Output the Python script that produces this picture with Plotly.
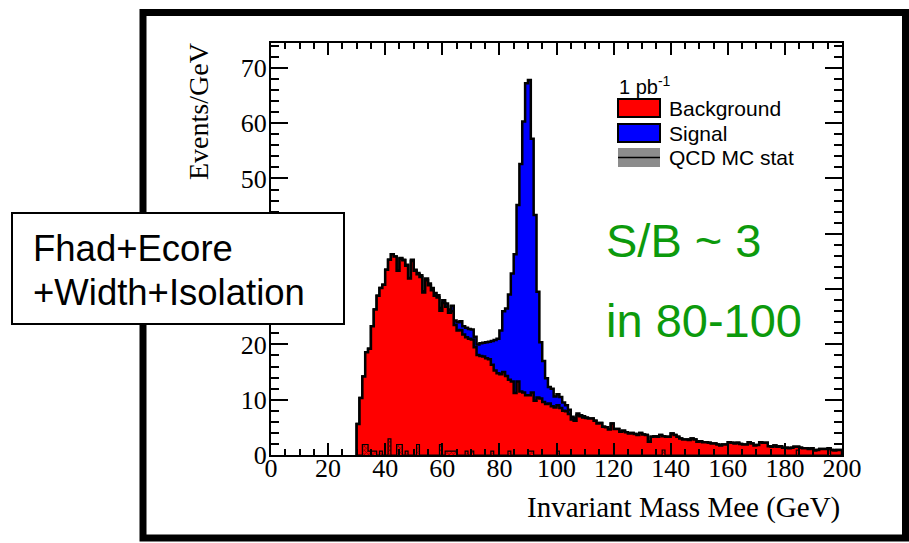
import numpy as np
import plotly.graph_objects as go

# ---------------- data (1 GeV bins, lower edges 30..199) ----------------
bin_low = list(range(30, 200))

background = [
    5.6, 10.3, 14.2, 18.6, 19.2, 23.3, 26.3, 28.8, 30.2, 30.8,      # 30-39
    33.5, 35.3, 36.3, 35.9, 33.3, 35.5, 35.2, 34.2, 31.9, 35.1,     # 40-49
    33.3, 32.7, 32.2, 29.4, 31.6, 30.7, 29.8, 28.8, 28.5, 26.1,     # 50-59
    27.5, 26.8, 25.7, 26.0, 23.5, 22.5, 22.6, 21.8, 21.3, 21.0,     # 60-69
    20.9, 19.5, 18.1, 17.9, 17.8, 17.5, 17.3, 16.3, 15.3, 14.8,     # 70-79
    14.6, 15.0, 14.3, 13.6, 13.3, 11.2, 13.3, 11.5, 11.3, 10.8,     # 80-89
    10.8, 11.3, 9.8, 10.4, 10.2, 9.6, 9.2, 9.3, 8.8, 8.6,           # 90-99
    9.0, 8.5, 8.0, 7.9, 7.4, 6.4, 6.2, 7.2, 7.0, 6.8,               # 100-109
    6.7, 6.6, 6.6, 6.2, 5.7, 5.8, 5.1, 5.0, 4.6, 5.7,               # 110-119
    4.7, 4.7, 4.2, 4.4, 4.1, 3.9, 4.0, 3.8, 3.6, 4.0,               # 120-129
    3.7, 3.6, 2.4, 3.3, 3.4, 3.3, 3.6, 3.4, 3.3, 3.3,               # 130-139
    3.9, 3.6, 3.3, 3.0, 2.8, 2.8, 2.7, 3.0, 2.8, 2.4,               # 140-149
    2.5, 2.3, 2.3, 2.2, 2.1, 2.1, 1.9, 1.7, 1.9, 1.9,               # 150-159
    2.3, 2.2, 2.1, 2.2, 2.0, 1.9, 1.9, 2.3, 2.1, 1.7,               # 160-169
    1.8, 2.3, 2.2, 2.2, 1.6, 1.5, 1.7, 1.5, 1.6, 1.3,               # 170-179
    1.3, 1.2, 1.3, 1.5, 1.5, 1.3, 1.2, 1.2, 1.1, 1.2,               # 180-189
    0.8, 0.9, 1.1, 1.1, 1.1, 1.2, 0.9, 0.8, 0.9, 0.9,               # 190-199
]

signal = [
    0, 0, 0, 0, 0, 0, 0, 0, 0, 0,                                   # 30-39
    0, 0, 0, 0, 0, 0.1, 0.1, 0.2, 0.1, 0.2,                         # 40-49
    0.2, 0.2, 0.3, 0.2, 0.3, 0.3, 0.4, 0.5, 0.4, 0.5,               # 50-59
    0.5, 0.6, 0.6, 1.0, 0.8, 1.5, 1.6, 1.5, 1.7, 1.8,               # 60-69
    1.8, 1.9, 1.9, 2.3, 2.5, 2.9, 3.2, 4.3, 5.5, 6.2,               # 70-79
    7.9, 11.0, 12.2, 15.4, 19.5, 25.1, 31.9, 41.1, 49.0, 56.4,      # 80-89
    57.0, 45.9, 33.6, 19.1, 10.2, 7.4, 4.7, 3.0, 3.2, 2.0,          # 90-99
    2.0, 2.0, 1.5, 1.1, 0.8, 0.5, 0.4, 0.3, 0.2, 0.2,               # 100-109
    0.1, 0, 0, 0, 0, 0, 0, 0, 0, 0,                                 # 110-119
] + [0] * 80                                                        # 120-199

qcd_bins = [32, 33, 34, 35, 36, 38, 41, 44, 45, 47, 51, 59, 61, 62, 63, 64,
            68, 70, 77, 83, 90, 91, 100, 137, 184, 195]
qcd_stat = [1.9, 1.9, 0.7, 0.7, 0.7, 0.7, 2.9, 1.9, 1.9, 0.7, 1.9, 1.9, 0.7, 0.7, 0.7, 0.7,
            0.7, 0.7, 0.7, 0.7, 0.7, 0.7, 0.7, 0.9, 0.9, 0.9]

x_ticks = list(range(0, 201, 20))
y_ticks = list(range(0, 71, 10))
legend_names = ["Background", "Signal", "QCD MC stat"]
lumi_label = "1 pb<sup>-1</sup>"
selection_lines = ["Fhad+Ecore", "+Width+Isolation"]
sb_lines = ["S/B ~ 3", "in 80-100"]

assert len(background) == len(bin_low) and len(signal) == len(bin_low)

# ---------------- figure ----------------
bkg = np.array(background)
sig = np.array(signal)
tot = bkg + sig
qcd = np.zeros(len(bin_low))
qcd[np.array(qcd_bins) - bin_low[0]] = qcd_stat
edges = np.array(bin_low + [200])

W, H = 909, 543
L, R, T, B = 271, 842, 43, 455
pw, ph = R - L, B - T


def px(x):
    return (x - L) / pw


def py(y):
    return (B - y) / ph


SERIF = "Liberation Serif"
SANS = "Liberation Sans"
RED = "#ff0000"
BLUE = "#0000ff"

fig = go.Figure()


def step(vals):
    xs = np.concatenate([[edges[0]], edges, [edges[-1]]])
    ys = np.concatenate([[0], vals, [vals[-1], 0]])
    return xs, ys


xs, ys_tot = step(tot)
_, ys_bkg = step(bkg)
_, ys_qcd = step(qcd)

fig.add_trace(go.Scatter(x=xs, y=ys_tot, mode="lines", line=dict(shape="hv", color="black", width=2.5),
                         fill="tozeroy", fillcolor=BLUE, showlegend=False, hoverinfo="skip"))
fig.add_trace(go.Scatter(x=xs, y=ys_bkg, mode="lines", line=dict(shape="hv", color="black", width=2.5),
                         fill="tozeroy", fillcolor=RED, showlegend=False, hoverinfo="skip"))
fig.add_trace(go.Scatter(x=xs, y=ys_qcd, mode="lines", line=dict(shape="hv", color="black", width=1.2),
                         fill="tozeroy", fillcolor=RED,
                         fillpattern=dict(shape="x", fgcolor="black", bgcolor=RED, size=3, solidity=0.45),
                         showlegend=False, hoverinfo="skip"))

axis_common = dict(showline=True, linecolor="black", linewidth=2, mirror="ticks", ticks="inside",
                   tickcolor="black", tickwidth=1.5, showgrid=False, zeroline=False,
                   tickfont=dict(family=SERIF, size=26, color="black"))

fig.update_xaxes(range=[0, 200], tickvals=x_ticks, ticklen=12, ticklabelstandoff=-11,
                 minor=dict(dtick=5, ticklen=6, ticks="inside", tickcolor="black", tickwidth=1.5),
                 **axis_common)
fig.update_yaxes(range=[0, 74.5], tickvals=y_ticks, ticklen=17, ticklabelstandoff=-3,
                 minor=dict(dtick=2, ticklen=8, ticks="inside", tickcolor="black", tickwidth=1.5),
                 **axis_common)

shapes = []
# outer thick frame
shapes.append(dict(type="rect", xref="paper", yref="paper", x0=px(143), x1=px(905.5), y0=py(538), y1=py(12.5),
                   line=dict(color="black", width=7), fillcolor="rgba(0,0,0,0)", layer="above"))
# selection text box
shapes.append(dict(type="rect", xref="paper", yref="paper", x0=px(12), x1=px(344), y0=py(324), y1=py(213),
                   line=dict(color="black", width=2), fillcolor="white", layer="above"))

# legend swatches
leg_rows = [(99, 117, RED), (124, 142, BLUE), (148, 167, "#8c8c8c")]
for (ya, yb, col) in leg_rows:
    shapes.append(dict(type="rect", xref="paper", yref="paper", x0=px(618), x1=px(660), y0=py(yb), y1=py(ya),
                       line=dict(color="black", width=2 if col != "#8c8c8c" else 0), fillcolor=col, layer="above"))
shapes.append(dict(type="line", xref="paper", yref="paper", x0=px(618), x1=px(660), y0=py(157.5), y1=py(157.5),
                   line=dict(color="black", width=1.5), layer="above"))

annotations = []
annotations.append(dict(text=lumi_label, xref="paper", yref="paper", x=px(617), y=py(86), xanchor="left",
                        yanchor="middle", showarrow=False, font=dict(family=SANS, size=20, color="black")))
for name, (ya, yb, _) in zip(legend_names, leg_rows):
    annotations.append(dict(text=name, xref="paper", yref="paper", x=px(667), y=py((ya + yb) / 2),
                            xanchor="left", yanchor="middle", showarrow=False,
                            font=dict(family=SANS, size=21, color="black")))

annotations.append(dict(text="Events/GeV", xref="paper", yref="paper", x=px(198), y=py(112), textangle=-90,
                        xanchor="center", yanchor="middle", showarrow=False,
                        font=dict(family=SERIF, size=28, color="black")))
annotations.append(dict(text="Invariant Mass Mee (GeV)", xref="paper", yref="paper", x=1.0, y=py(507),
                        xanchor="right", yanchor="middle", showarrow=False,
                        font=dict(family=SERIF, size=29, color="black")))

for line, yc in zip(selection_lines, [248, 292]):
    annotations.append(dict(text=line, xref="paper", yref="paper", x=px(31), y=py(yc), xanchor="left",
                            yanchor="middle", showarrow=False, font=dict(family=SANS, size=36.5, color="black")))

for line, yc in zip(sb_lines, [240, 321]):
    annotations.append(dict(text=line, xref="paper", yref="paper", x=px(604), y=py(yc), xanchor="left",
                            yanchor="middle", showarrow=False, font=dict(family=SANS, size=47, color="#0c9a0c")))

fig.update_layout(width=W, height=H, margin=dict(l=L, r=W - R, t=T, b=H - B, autoexpand=False),
                  paper_bgcolor="white", plot_bgcolor="white",
                  shapes=shapes, annotations=annotations, showlegend=False)

fig.write_html("out.html", config={"displayModeBar": False},
               post_script="document.body.style.margin='0';document.body.style.padding='0';")
